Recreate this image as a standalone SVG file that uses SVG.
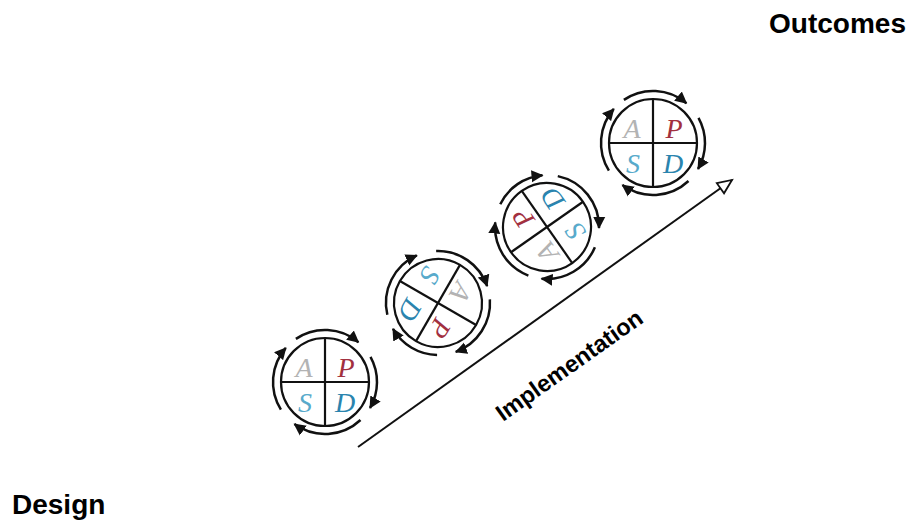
<svg xmlns="http://www.w3.org/2000/svg" width="911" height="522" viewBox="0 0 911 522">
<style>
.ring{fill:none;stroke:#111;stroke-width:2.2}
.div{stroke:#111;stroke-width:2.2}
.arc{fill:none;stroke:#111;stroke-width:2.5;marker-end:url(#ah)}
.ltr{font-family:"Liberation Serif","DejaVu Serif",serif;font-style:italic;font-size:28px;text-anchor:middle}
.a{fill:#b3b3b3}.p{fill:#a2303f}.s{fill:#58aacb}.d{fill:#2a84ae}
.lbl{font-family:"Liberation Sans",Arial,sans-serif;font-weight:bold;fill:#000}
</style>
<defs>
<marker id="ah" markerUnits="userSpaceOnUse" markerWidth="13" markerHeight="13" refX="11" refY="6" orient="auto" viewBox="0 0 13 12">
<path d="M0,0 L12,6 L0,12 z" fill="#111"/>
</marker>
<marker id="open" markerUnits="userSpaceOnUse" markerWidth="20" markerHeight="16" refX="16" refY="7" orient="auto" viewBox="-2 -2 20 18">
<path d="M0,0 L16,7 L0,14 z" fill="#fff" stroke="#111" stroke-width="2"/>
</marker>
</defs>

<g id="connectors">
<path d="M358,447 L732,180" fill="none" stroke="#111" stroke-width="2" marker-end="url(#open)"/>
</g>

<g id="cycle1" transform="translate(325,382)">
<circle class="ring" r="44"/>
<line class="div" x1="-44" y1="0" x2="44" y2="0"/>
<line class="div" x1="0" y1="-44" x2="0" y2="44"/>
<text class="ltr a" x="-21" y="-5">A</text>
<text class="ltr p" x="21" y="-5">P</text>
<text class="ltr s" x="-20" y="30">S</text>
<text class="ltr d" x="20" y="30">D</text>
<path class="arc" d="M-29.1,-43.1 A52,52 0 0 1 33.4,-39.8"/>
<path class="arc" d="M45.5,-25.2 A52,52 0 0 1 45,26"/>
<path class="arc" d="M35.5,38 A52,52 0 0 1 -30.6,42.1"/>
<path class="arc" d="M-44.1,27.6 A52,52 0 0 1 -39.2,-34.1"/>
</g>

<g id="cycle2" transform="translate(438,303) rotate(120)">
<circle class="ring" r="44"/>
<line class="div" x1="-44" y1="0" x2="44" y2="0"/>
<line class="div" x1="0" y1="-44" x2="0" y2="44"/>
<text class="ltr a" x="-21" y="-5">A</text>
<text class="ltr p" x="21" y="-5">P</text>
<text class="ltr s" x="-20" y="30">S</text>
<text class="ltr d" x="20" y="30">D</text>
<path class="arc" d="M-29.1,-43.1 A52,52 0 0 1 33.4,-39.8"/>
<path class="arc" d="M45.5,-25.2 A52,52 0 0 1 45,26"/>
<path class="arc" d="M35.5,38 A52,52 0 0 1 -30.6,42.1"/>
<path class="arc" d="M-44.1,27.6 A52,52 0 0 1 -39.2,-34.1"/>
</g>

<g id="cycle3" transform="translate(547,227) rotate(-125)">
<circle class="ring" r="44"/>
<line class="div" x1="-44" y1="0" x2="44" y2="0"/>
<line class="div" x1="0" y1="-44" x2="0" y2="44"/>
<text class="ltr a" x="-21" y="-5">A</text>
<text class="ltr p" x="21" y="-5">P</text>
<text class="ltr s" x="-20" y="30">S</text>
<text class="ltr d" x="20" y="30">D</text>
<path class="arc" d="M-29.1,-43.1 A52,52 0 0 1 33.4,-39.8"/>
<path class="arc" d="M45.5,-25.2 A52,52 0 0 1 45,26"/>
<path class="arc" d="M35.5,38 A52,52 0 0 1 -30.6,42.1"/>
<path class="arc" d="M-44.1,27.6 A52,52 0 0 1 -39.2,-34.1"/>
</g>

<g id="cycle4" transform="translate(653,143)">
<circle class="ring" r="44"/>
<line class="div" x1="-44" y1="0" x2="44" y2="0"/>
<line class="div" x1="0" y1="-44" x2="0" y2="44"/>
<text class="ltr a" x="-21" y="-5">A</text>
<text class="ltr p" x="21" y="-5">P</text>
<text class="ltr s" x="-20" y="30">S</text>
<text class="ltr d" x="20" y="30">D</text>
<path class="arc" d="M-29.1,-43.1 A52,52 0 0 1 33.4,-39.8"/>
<path class="arc" d="M45.5,-25.2 A52,52 0 0 1 45,26"/>
<path class="arc" d="M35.5,38 A52,52 0 0 1 -30.6,42.1"/>
<path class="arc" d="M-44.1,27.6 A52,52 0 0 1 -39.2,-34.1"/>
</g>

<g id="label-implementation">
<text class="lbl" font-size="23.5" transform="translate(503,422) rotate(-35.3)">Implementation</text>
</g>
<g id="label-outcomes">
<text class="lbl" font-size="28" x="906" y="33" text-anchor="end">Outcomes</text>
</g>
<g id="label-design">
<text class="lbl" font-size="28" x="12" y="514">Design</text>
</g>
</svg>
